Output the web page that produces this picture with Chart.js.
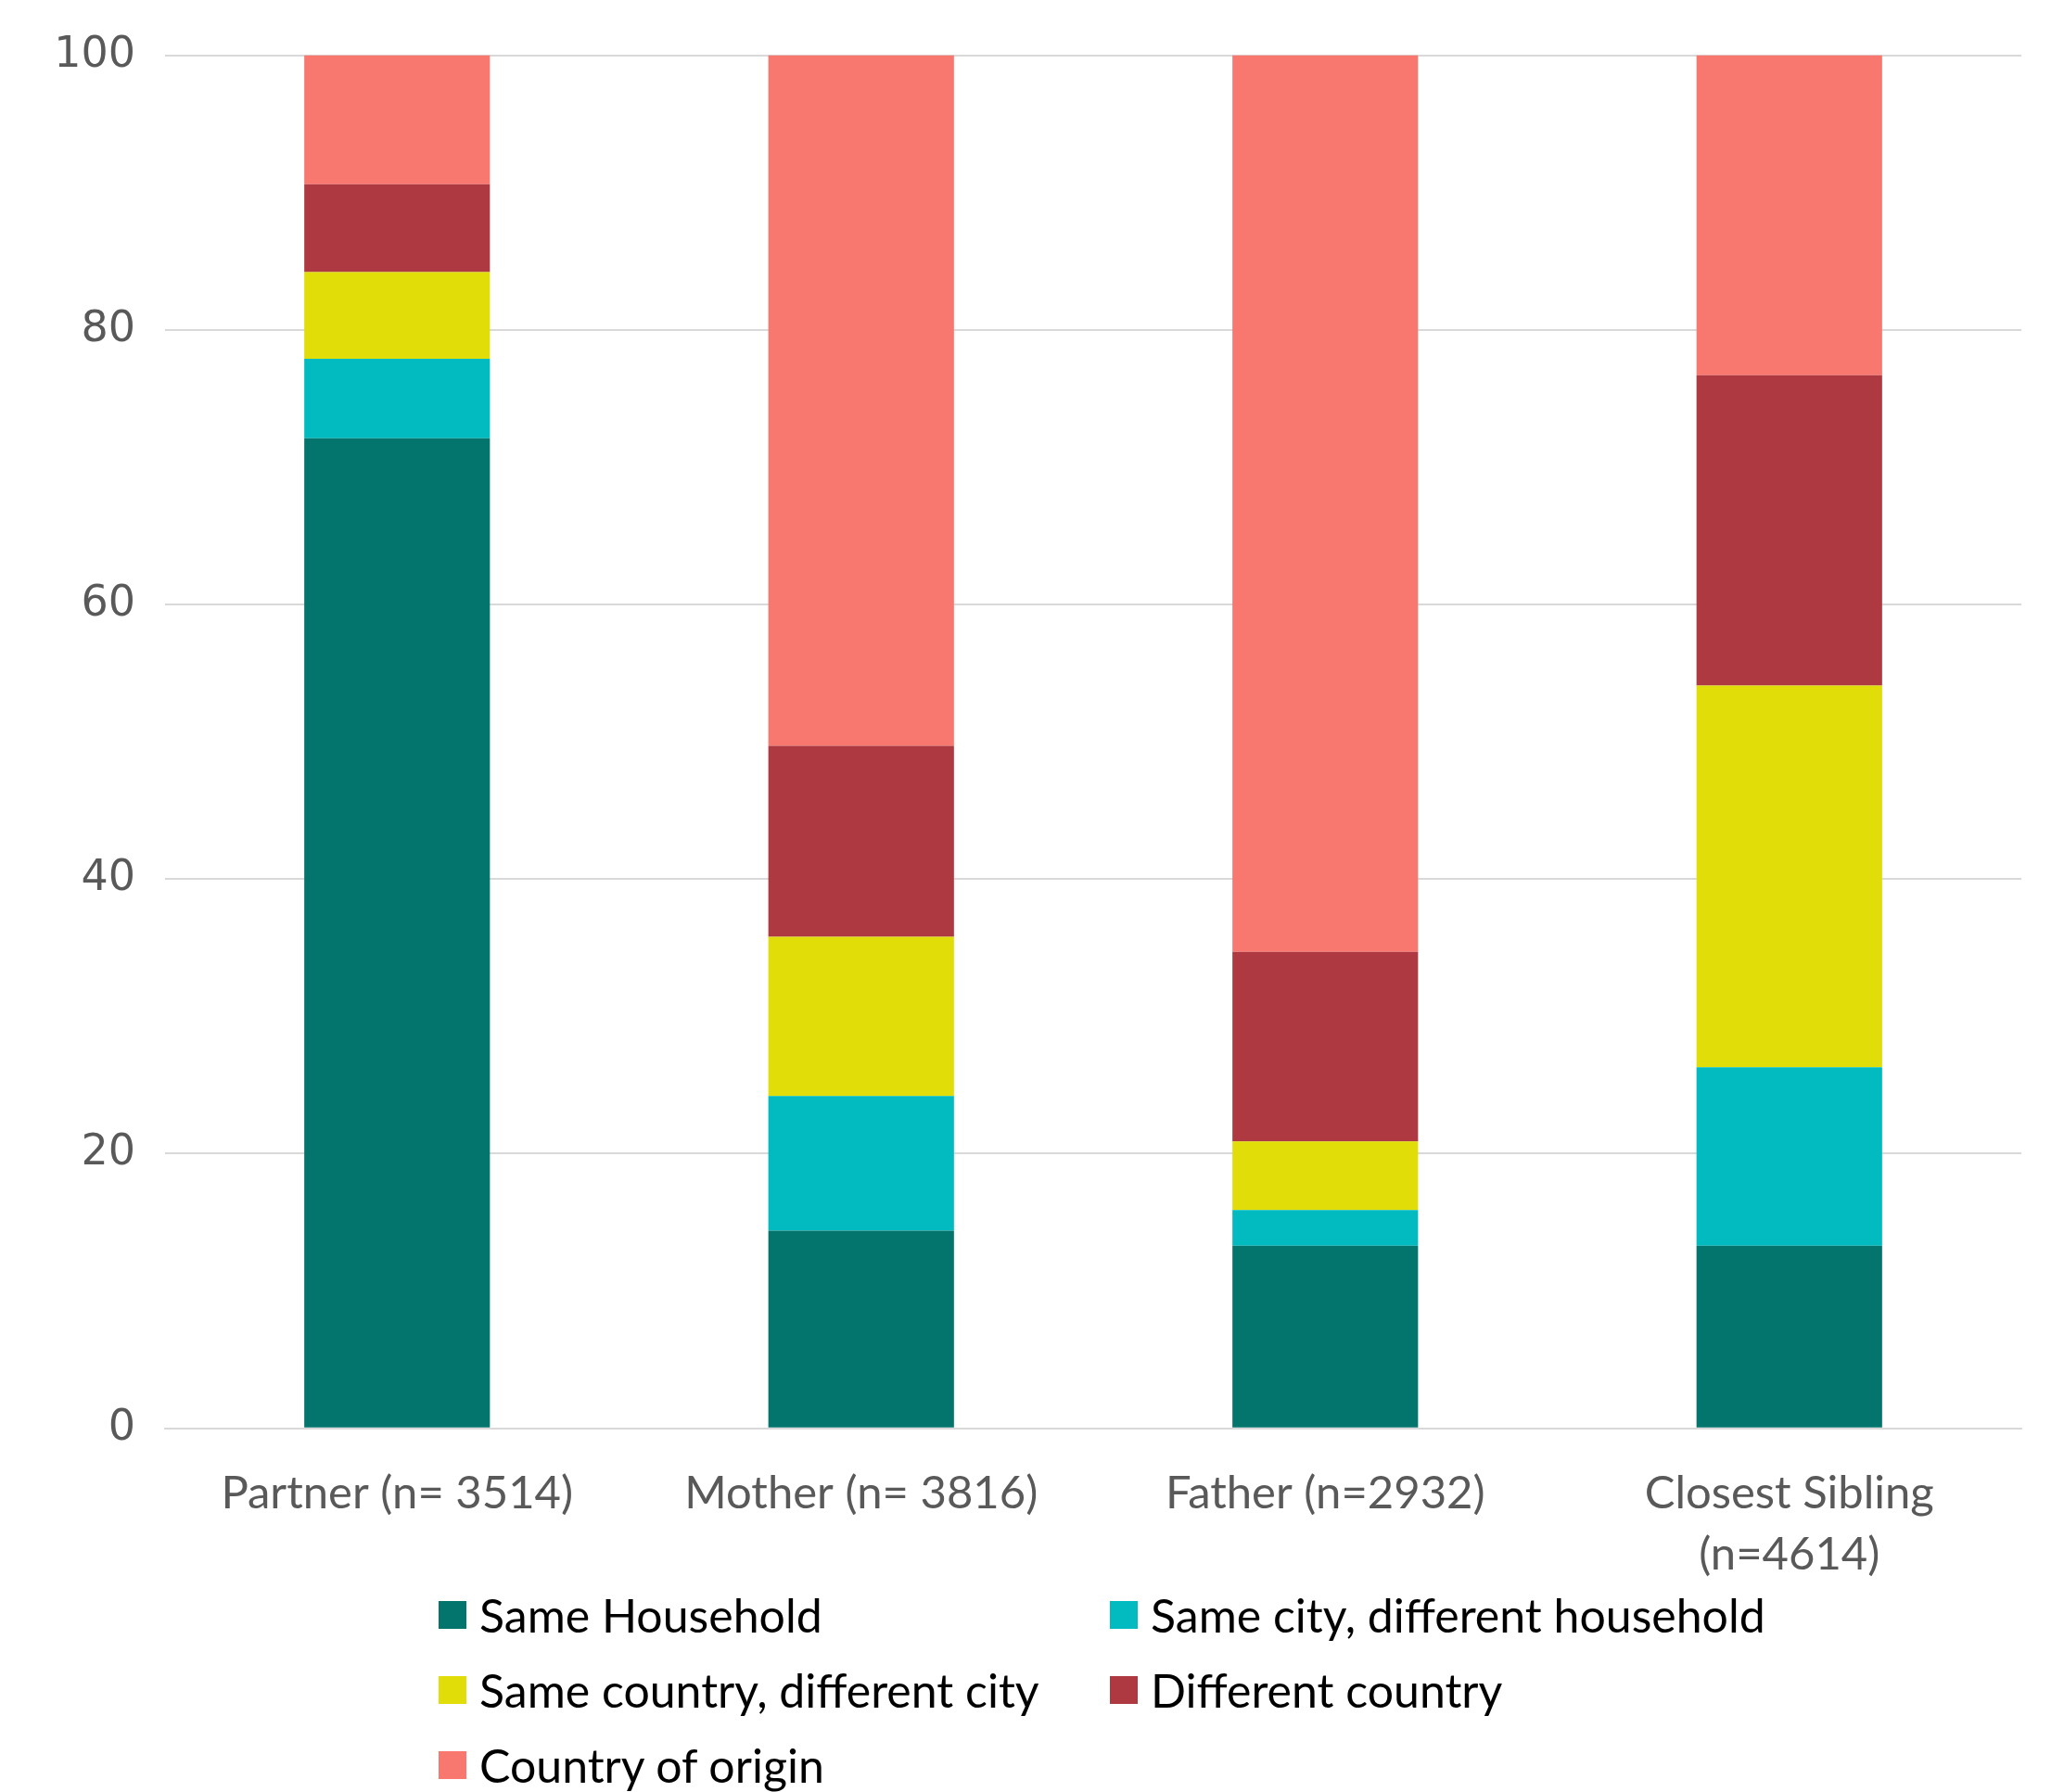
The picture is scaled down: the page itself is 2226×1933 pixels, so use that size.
<!DOCTYPE html>
<html>
<head>
<meta charset="utf-8">
<script src="https://cdn.jsdelivr.net/npm/chart.js@4/dist/chart.umd.min.js"></script>
<style>
  body { margin: 0; background: #fff; }
  #wrap { position: relative; width: 2226px; height: 1933px; }
  #chartBox { position: absolute; left: 0; top: 0; width: 2226px; height: 1748px; }
  #legend {
    position: absolute; left: 473px; top: 1712px;
    display: grid; grid-template-columns: 724px 724px; row-gap: 21px;
    font-family: Lato, "Open Sans", sans-serif; font-size: 50px; color: #000;
  }
  .item { display: flex; align-items: center; height: 60px; white-space: nowrap; }
  .box { width: 30px; height: 30px; margin-right: 14px; flex: none; }
</style>
</head>
<body>
<div id="wrap">
  <div id="chartBox"><canvas id="chart"></canvas></div>
  <div id="legend"></div>
</div>
<script>
const categories = ['Partner (n= 3514)', 'Mother (n= 3816)', 'Father (n=2932)', ['Closest Sibling', '(n=4614)']];
const seriesNames = ['Same Household', 'Same city, different household', 'Same country, different city', 'Different country', 'Country of origin'];
const sameHousehold = [72.1, 14.4, 13.3, 13.3];
const sameCity = [5.8, 9.8, 2.6, 13.0];
const sameCountry = [6.3, 11.6, 5.0, 27.8];
const diffCountry = [6.4, 13.9, 13.8, 22.6];
const countryOrigin = [9.4, 50.3, 65.3, 23.3];
const yTicks = [0, 20, 40, 60, 80, 100];

const colors = ['#03756c', '#02bbc1', '#e0dd08', '#af3940', '#f8776f'];
const values = [sameHousehold, sameCity, sameCountry, diffCountry, countryOrigin];

const chart = new Chart(document.getElementById('chart'), {
  type: 'bar',
  data: {
    labels: categories,
    datasets: seriesNames.map((name, i) => ({
      label: name,
      data: values[i],
      backgroundColor: colors[i],
      borderWidth: 0,
      barPercentage: 0.4,
      categoryPercentage: 1
    }))
  },
  options: {
    responsive: true,
    maintainAspectRatio: false,
    animation: false,
    layout: { padding: { top: 44, right: 46, left: 0, bottom: 0 } },
    plugins: {
      legend: { display: false },
      tooltip: { enabled: false }
    },
    scales: {
      x: {
        stacked: true,
        grid: { display: false, drawTicks: false },
        border: { display: true, color: '#d9d9d9', width: 2 },
        ticks: {
          color: '#595959',
          padding: 37,
          maxRotation: 0,
          autoSkip: false,
          font: { family: 'Lato', size: 49, lineHeight: 1.36 }
        }
      },
      y: {
        stacked: true,
        min: 0,
        max: 100,
        afterFit: s => { s.width = 178; },
        afterBuildTicks: s => { s.ticks = yTicks.map(v => ({ value: v })); },
        grid: { color: '#d9d9d9', lineWidth: 2, drawTicks: false },
        border: { display: false },
        ticks: {
          color: '#595959',
          padding: 32,
          font: { family: 'DejaVu Sans', size: 46 }
        }
      }
    }
  }
});

const legend = document.getElementById('legend');
seriesNames.forEach((name, i) => {
  const item = document.createElement('div');
  item.className = 'item';
  item.innerHTML = '<span class="box" style="background:' + colors[i] + '"></span><span>' + name + '</span>';
  legend.appendChild(item);
});
</script>
</body>
</html>
